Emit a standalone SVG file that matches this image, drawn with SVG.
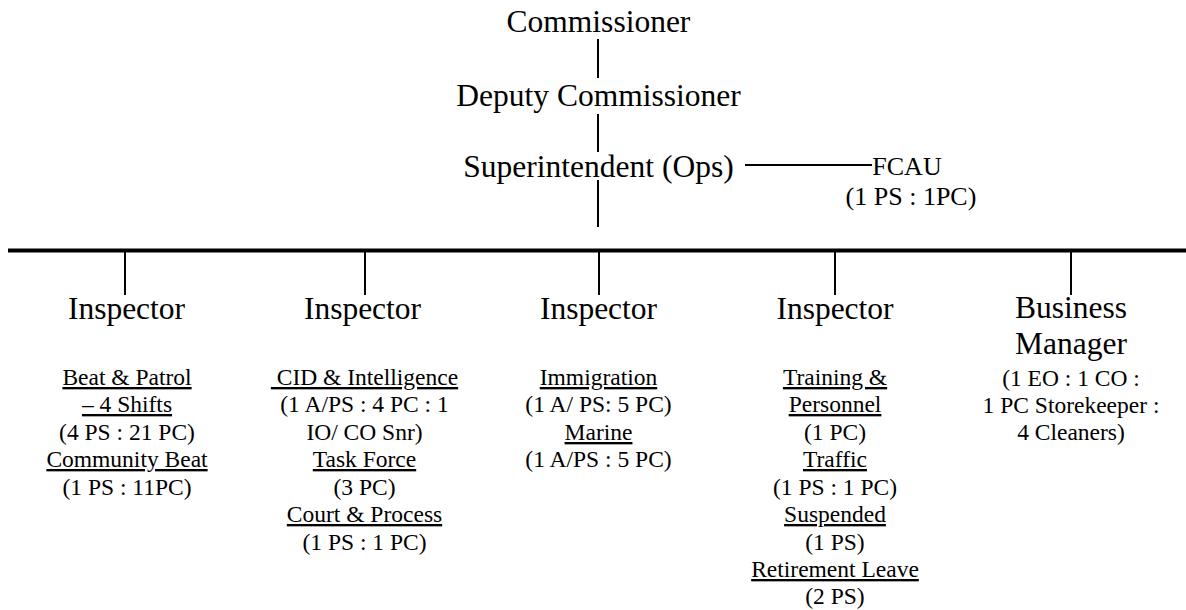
<svg xmlns="http://www.w3.org/2000/svg" width="1186" height="610" viewBox="0 0 1186 610">
  <style>
    text { font-family: 'Liberation Serif', 'Times New Roman', serif; fill: #000; text-anchor: middle; }
    .big { font-size: 31.5px; }
    .sm { font-size: 23.5px; }
    .fc { font-size: 26px; }
    .u { text-decoration: underline; }
    .ln { stroke: #000; stroke-width: 2; fill: none; }
    .bar { stroke: #000; stroke-width: 4; }
  </style>
  <rect width="1186" height="610" fill="#fff"/>

  <!-- reporting lines and the main distribution bar -->
  <g id="connectors">
    <line class="ln" x1="598" y1="39" x2="598" y2="78"/>
    <line class="ln" x1="598" y1="114" x2="598" y2="152"/>
    <line class="ln" x1="598" y1="180" x2="598" y2="227"/>
    <line class="ln" x1="745" y1="165" x2="872" y2="165"/>
    <line class="bar" x1="8" y1="250.5" x2="1186" y2="250.5"/>
    <line class="ln" x1="125" y1="251" x2="125" y2="295"/>
    <line class="ln" x1="365" y1="251" x2="365" y2="295"/>
    <line class="ln" x1="599" y1="251" x2="599" y2="295"/>
    <line class="ln" x1="835" y1="251" x2="835" y2="295"/>
    <line class="ln" x1="1071" y1="251" x2="1071" y2="295"/>
  </g>

  <g id="commissioner">
    <text class="big" x="598.5" y="32">Commissioner</text>
  </g>
  <g id="deputy-commissioner">
    <text class="big" x="598.5" y="106">Deputy Commissioner</text>
  </g>
  <g id="superintendent">
    <text class="big" x="598.5" y="177">Superintendent (Ops)</text>
  </g>
  <g id="fcau">
    <text class="fc" x="907" y="175">FCAU</text>
    <text class="fc" x="911" y="205">(1 PS : 1PC)</text>
  </g>

  <g id="inspector-beat">
    <text class="big" x="126.5" y="319">Inspector</text>
    <text class="sm u" x="127" y="385">Beat &amp; Patrol</text>
    <text class="sm u" x="127" y="412">– 4 Shifts</text>
    <text class="sm" x="127" y="440">(4 PS : 21 PC)</text>
    <text class="sm u" x="127" y="467">Community Beat</text>
    <text class="sm" x="127" y="495">(1 PS : 11PC)</text>
  </g>

  <g id="inspector-cid">
    <text class="big" x="362.5" y="319">Inspector</text>
    <text class="sm u" x="364.5" y="385" xml:space="preserve"> CID &amp; Intelligence</text>
    <text class="sm" x="364.5" y="412">(1 A/PS : 4 PC : 1</text>
    <text class="sm" x="364.5" y="440">IO/ CO Snr)</text>
    <text class="sm u" x="364.5" y="467">Task Force</text>
    <text class="sm" x="364.5" y="495">(3 PC)</text>
    <text class="sm u" x="364.5" y="522">Court &amp; Process</text>
    <text class="sm" x="364.5" y="550">(1 PS : 1 PC)</text>
  </g>

  <g id="inspector-immigration">
    <text class="big" x="598.5" y="319">Inspector</text>
    <text class="sm u" x="598.5" y="385">Immigration</text>
    <text class="sm" x="598.5" y="412">(1 A/ PS: 5 PC)</text>
    <text class="sm u" x="598.5" y="440">Marine</text>
    <text class="sm" x="598.5" y="467">(1 A/PS : 5 PC)</text>
  </g>

  <g id="inspector-training">
    <text class="big" x="835" y="319">Inspector</text>
    <text class="sm u" x="835" y="385">Training &amp;</text>
    <text class="sm u" x="835" y="412">Personnel</text>
    <text class="sm" x="835" y="440">(1 PC)</text>
    <text class="sm u" x="835" y="467">Traffic</text>
    <text class="sm" x="835" y="495">(1 PS : 1 PC)</text>
    <text class="sm u" x="835" y="522">Suspended</text>
    <text class="sm" x="835" y="550">(1 PS)</text>
    <text class="sm u" x="835" y="577">Retirement Leave</text>
    <text class="sm" x="835" y="604">(2 PS)</text>
  </g>

  <g id="business-manager">
    <text class="big" x="1071" y="318">Business</text>
    <text class="big" x="1071" y="354">Manager</text>
    <text class="sm" x="1071" y="386">(1 EO : 1 CO :</text>
    <text class="sm" x="1071" y="413">1 PC Storekeeper :</text>
    <text class="sm" x="1071" y="440">4 Cleaners)</text>
  </g>
</svg>
